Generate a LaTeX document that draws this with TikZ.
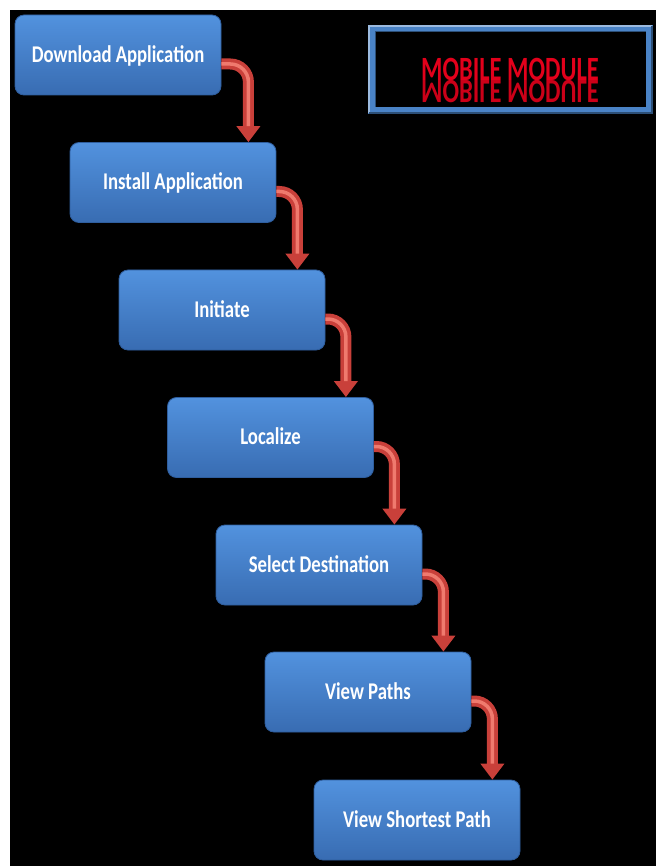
\documentclass[tikz,border=0pt]{standalone}
\usepackage{fontspec}
\newfontfamily\stepfont{Carlito}[FakeStretch=0.78]
\newfontfamily\titlefont{Carlito}[FakeStretch=0.72]
\usetikzlibrary{arrows.meta}
\usepackage{xcolor}

\definecolor{boxtop}{HTML}{5292DE}
\definecolor{boxbottom}{HTML}{386CB2}
\definecolor{boxedge}{HTML}{2F5E9E}
\definecolor{pipered}{HTML}{C9403A}
\definecolor{pipelight}{HTML}{EF7A6E}
\definecolor{titlered}{HTML}{E3001B}
\definecolor{frameblue}{HTML}{4A83C6}

\tikzset{
  stepbox/.style={rounded corners=9pt, minimum width=206pt, minimum height=80pt,
    top color=boxtop, bottom color=boxbottom, draw=boxedge, line width=0.8pt,
    text=white, text depth=2pt, font=\stepfont\bfseries\fontsize{24}{24}\selectfont},
  pipe/.style={draw=pipered, line width=11pt, rounded corners=18pt,
    -{Triangle[width=23pt,length=16pt]},
    postaction={draw=pipelight, line width=3.5pt, -, shorten >=16pt}},
  titletext/.style={text=titlered, anchor=base, inner sep=0pt,
    font=\titlefont\bfseries\fontsize{34}{34}\selectfont}
}

\begin{document}
\begin{tikzpicture}[x=1pt, y=-1pt]
    \useasboundingbox (0,0) rectangle (656,866);
    \fill[white] (0,0) rectangle (656,866);
    \fill[black] (10,10) rectangle (656,866);

    % title frame
    \fill[frameblue] (368,25) rectangle (653,114);
    \draw[frameblue!55!white, line width=1.2pt] (369,113) |- (652,26);
    \draw[frameblue!60!black, line width=1.2pt] (369,113) -| (652,26);
    \fill[black] (375,32) rectangle (646,107);
    \draw[frameblue!60!black, line width=1pt] (375,107) |- (646,32);
    \begin{scope}
        \clip (375,32) rectangle (646,104);
        \node[titletext] (title) at (510,81) {MOBILE MODULE};
        \node[titletext, yscale=-1, opacity=0.9] (mirror) at (510,81) {MOBILE MODULE};
    \end{scope}

    % the steps
    \node[stepbox] (download) at (118,55) {Download Application};
    \node[stepbox] (install) at (173,182.5) {Install Application};
    \node[stepbox] (initiate) at (222,310) {Initiate};
    \node[stepbox] (localize) at (270.5,437.5) {Localize};
    \node[stepbox] (select) at (319,565) {Select Destination};
    \node[stepbox] (paths) at (368,692) {View Paths};
    \node[stepbox] (shortest) at (417,820) {View Shortest Path};

    % elbow arrows between steps
    \draw[pipe] ([yshift=-9pt]download.east) -| ([xshift=-28pt]install.north east);
    \draw[pipe] ([yshift=-9pt]install.east) -| ([xshift=-28pt]initiate.north east);
    \draw[pipe] ([yshift=-9pt]initiate.east) -| ([xshift=-28pt]localize.north east);
    \draw[pipe] ([yshift=-9pt]localize.east) -| ([xshift=-28pt]select.north east);
    \draw[pipe] ([yshift=-9pt]select.east) -| ([xshift=-28pt]paths.north east);
    \draw[pipe] ([yshift=-9pt]paths.east) -| ([xshift=-28pt]shortest.north east);
\end{tikzpicture}
\end{document}
